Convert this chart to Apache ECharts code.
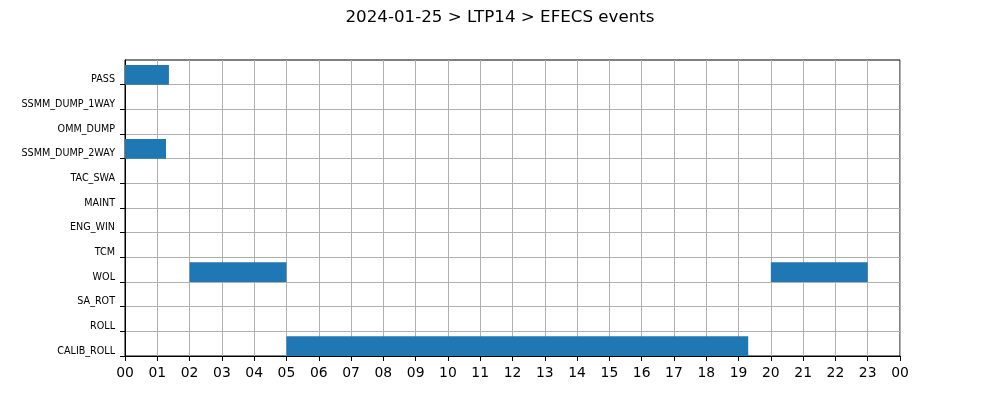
<!DOCTYPE html>
<html>
<head>
<meta charset="utf-8">
<script src="https://cdn.jsdelivr.net/npm/echarts@6/dist/echarts.min.js"></script>
<style>html,body{margin:0;padding:0;background:#fff;}#c{width:1000px;height:400px;}</style>
</head>
<body>
<div id="c"></div>
<script>
// Rows from bottom (0) to top (11)
const rowNames = ["CALIB_ROLL","ROLL","SA_ROT","WOL","TCM","ENG_WIN","MAINT","TAC_SWA","SSMM_DUMP_2WAY","OMM_DUMP","SSMM_DUMP_1WAY","PASS"];
// Events: row name, start hour, end hour
const eventRows   = ["PASS","SSMM_DUMP_2WAY","WOL","WOL","CALIB_ROLL"];
const eventStarts = [0, 0, 2, 20, 5];
const eventEnds   = [1.36, 1.27, 5, 23, 19.3];
const hourLabels = ["00","01","02","03","04","05","06","07","08","09","10","11","12","13","14","15","16","17","18","19","20","21","22","23","00"];
const barHeight = 0.8;

const data = eventRows.map((r, i) => [eventStarts[i], eventEnds[i], rowNames.indexOf(r)]);
const rowTicks = rowNames.map((n, i) => i);

const chart = echarts.init(document.getElementById('c'), null, {renderer: 'canvas'});
chart.setOption({
  animation: false,
  backgroundColor: '#fff',
  title: {
    text: '2024-01-25 > LTP14 > EFECS events',
    left: 'center', top: 4,
    textStyle: {fontFamily: 'DejaVu Sans', fontSize: 16.7, fontWeight: 'normal', color: '#000'}
  },
  grid: {left: 125, right: 100, top: 60, bottom: 44, show: true, borderColor: '#000', borderWidth: 1, backgroundColor: 'transparent'},
  xAxis: {
    type: 'value', min: 0, max: 24, interval: 1,
    axisLine: {show: true, lineStyle: {color: '#000', width: 1}},
    axisTick: {show: true, length: 5, lineStyle: {color: '#000'}},
    axisLabel: {
      margin: 10, fontFamily: 'DejaVu Sans', fontSize: 13.9, color: '#000',
      formatter: v => hourLabels[Math.round(v)]
    },
    splitLine: {show: true, lineStyle: {color: '#b0b0b0', width: 1}}
  },
  yAxis: {
    type: 'value', min: 0, max: 12, interval: 1,
    axisLine: {show: true, lineStyle: {color: '#000', width: 1}},
    axisTick: {show: true, length: 5, lineStyle: {color: '#000', width: 1}, customValues: rowTicks},
    axisLabel: {
      margin: 10, fontFamily: 'DejaVu Sans', fontSize: 9.6, color: '#000',
      verticalAlign: 'bottom', lineHeight: 10,
      formatter: v => (v >= 0 && v < rowNames.length) ? rowNames[v] : ''
    },
    splitLine: {show: true, lineStyle: {color: '#b0b0b0', width: 1}}
  },
  series: [{
    type: 'custom',
    renderItem: function (params, api) {
      const s = api.coord([api.value(0), api.value(2)]);
      const e = api.coord([api.value(1), api.value(2) + barHeight]);
      return {
        type: 'rect',
        shape: {x: s[0], y: e[1], width: e[0] - s[0], height: s[1] - e[1]},
        style: {fill: '#1f77b4'}
      };
    },
    encode: {x: [0, 1], y: 2},
    data: data,
    z: 1
  }]
});
</script>
</body>
</html>
